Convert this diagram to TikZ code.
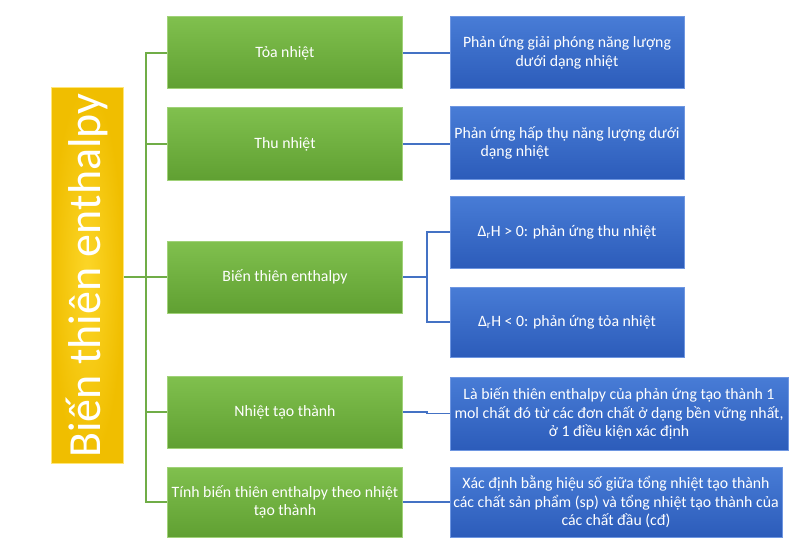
\documentclass[tikz,border=0pt]{standalone}
\usepackage{fontspec}
\setmainfont{Carlito}
\definecolor{gtop}{RGB}{128,192,78}
\definecolor{gbot}{RGB}{96,160,50}
\definecolor{gedge}{RGB}{160,210,120}
\definecolor{btop}{RGB}{72,124,214}
\definecolor{bbot}{RGB}{44,92,186}
\definecolor{bedge}{RGB}{110,150,225}
\definecolor{ytop}{RGB}{252,214,40}
\definecolor{ybot}{RGB}{240,190,0}
\definecolor{yedge}{RGB}{255,230,120}
\definecolor{gline}{RGB}{112,173,71}
\definecolor{bline}{RGB}{68,114,196}
\tikzset{
  box/.style={rectangle, inner sep=2pt, align=center, text=white, font=\fontsize{15.8}{18.5}\selectfont, line width=1pt},
  gbox/.style={box, top color=gtop, bottom color=gbot, draw=gedge, minimum width=235pt, minimum height=72pt},
  bbox/.style={box, top color=btop, bottom color=bbot, draw=bedge, minimum width=234pt, minimum height=72pt},
  ybox/.style={rectangle, inner sep=0pt, text=white, draw=yedge, line width=1pt,
    inner color=ytop, outer color=ybot, minimum width=72pt, minimum height=375pt},
  gconn/.style={draw=gline, line width=1.2pt},
  bconn/.style={draw=bline, line width=1.2pt},
}
\begin{document}
\begin{tikzpicture}[x=1pt,y=-1pt]
\useasboundingbox (0,0) rectangle (800,559);
% root
\node[ybox] (root) at (87,275.5) {};
\node[rotate=90, text=white, font=\fontsize{46}{50}\selectfont] (roottext) at (root.center) {Biến thiên enthalpy};
% green boxes
\node[gbox] (g1) at (285,53) {Tỏa nhiệt};
\node[gbox] (g2) at (285,144) {Thu nhiệt};
\node[gbox] (g3) at (285,277) {Biến thiên enthalpy};
\node[gbox] (g4) at (285,412) {Nhiệt tạo thành};
\node[gbox, minimum height=70pt] (g5) at (285,502) {Tính biến thiên enthalpy theo nhiệt\\tạo thành};
% blue boxes
\node[bbox] (b1) at (567,53) {Phản ứng giải phóng năng lượng\\dưới dạng nhiệt};
\node[bbox] (b2) at (567,143) {Phản ứng hấp thụ năng lượng dưới\\dạng nhiệt\hspace*{6.6em}};
\node[bbox] (b3) at (567,232) {Δ\textsubscript{r}H > 0: phản ứng thu nhiệt};
\node[bbox, minimum height=70pt] (b4) at (567,322) {Δ\textsubscript{r}H < 0: phản ứng tỏa nhiệt};
\node[bbox, minimum width=338pt, minimum height=73pt] (b5) at (619,413.5) {Là biến thiên enthalpy của phản ứng tạo thành 1\\mol chất đó từ các đơn chất ở dạng bền vững nhất,\\ở 1 điều kiện xác định};
\node[bbox, minimum width=332pt, minimum height=70pt] (b6) at (616,502) {Xác định bằng hiệu số giữa tổng nhiệt tạo thành\\các chất sản phẩm (sp) và tổng nhiệt tạo thành của\\các chất đầu (cđ)};
% connectors root -> green
\coordinate (trunk) at (146,277);
\draw[gconn] (root.east |- trunk) -- (trunk);
\draw[gconn] (g1.west) -| (trunk) |- (g5.west);
\draw[gconn] (trunk |- g2.west) -- (g2.west);
\draw[gconn] (trunk) -- (g3.west);
\draw[gconn] (trunk |- g4.west) -- (g4.west);
% connectors green -> blue
\draw[bconn] (g1.east) -- (b1.west);
\draw[bconn] (g2.east) -- (b2.west |- g2.east);
\coordinate (sub) at (427,277);
\draw[bconn] (g3.east) -- (sub);
\draw[bconn] (b3.west) -| (sub) |- (b4.west);
\draw[bconn] (g4.east) -- ++(24,0) |- (b5.west);
\draw[bconn] (g5.east) -- (b6.west);
\end{tikzpicture}
\end{document}
